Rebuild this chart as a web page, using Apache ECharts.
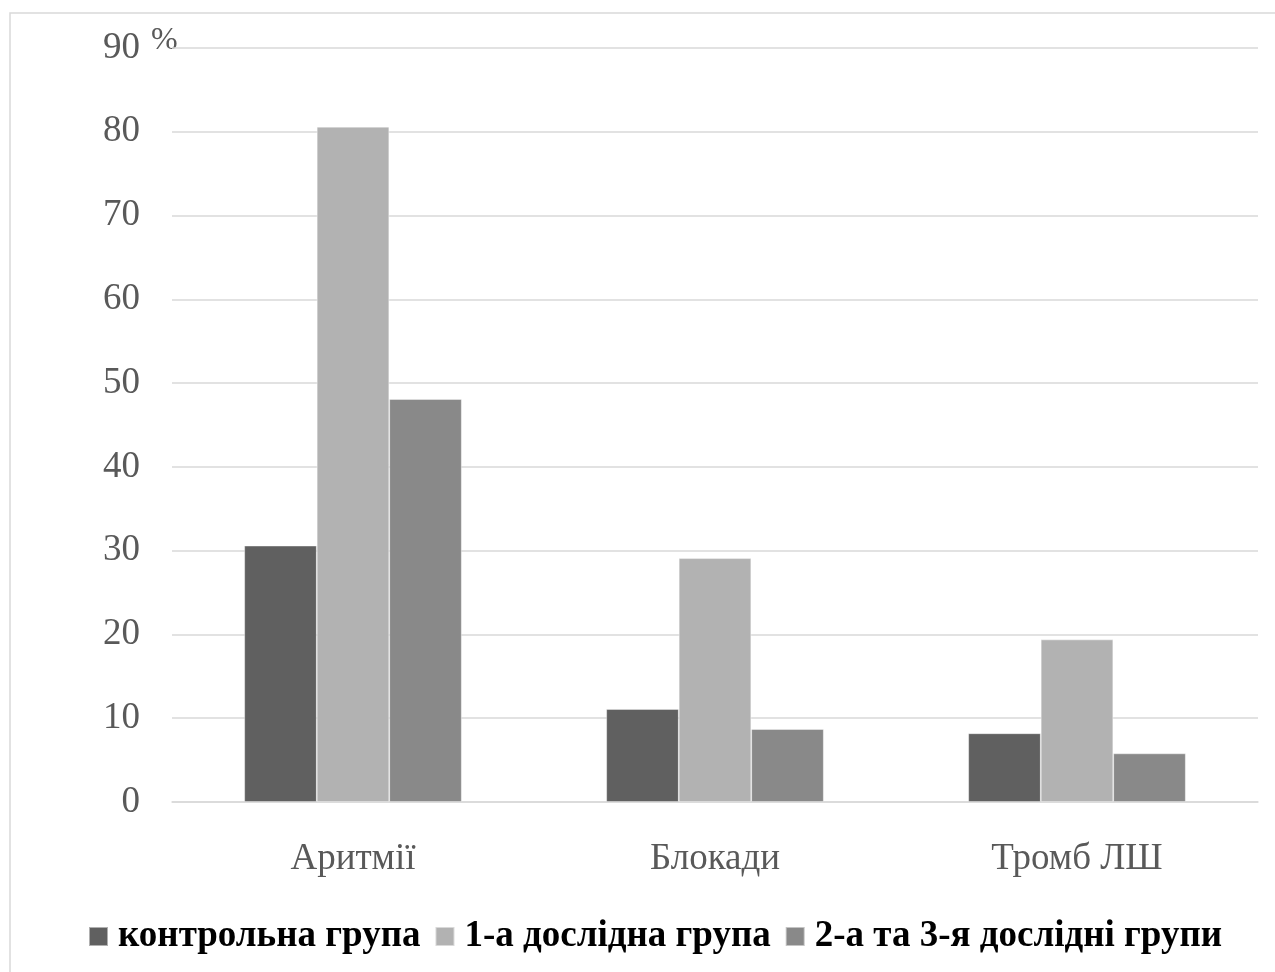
<!DOCTYPE html>
<html>
<head>
<meta charset="utf-8">
<script src="https://cdn.jsdelivr.net/npm/echarts@6/dist/echarts.min.js"></script>
<style>
  html, body { margin: 0; padding: 0; background: #ffffff; }
  #chart { width: 1275px; height: 972px; }
</style>
</head>
<body>
<div id="chart"></div>
<script>
// Complication rates by group, %
const categories = ['Аритмії', 'Блокади', 'Тромб ЛШ'];
const seriesNames = ['контрольна група', '1-а дослідна група', '2-а та 3-я дослідні групи'];
const controlGroup = [30.6, 11.1, 8.2];
const firstGroup = [80.6, 29.1, 19.4];
const secondThirdGroups = [48.1, 8.7, 5.8];
const yTicks = { min: 0, max: 90, interval: 10 };

const colors = ['#606060', '#b2b2b2', '#898989'];
const serifFont = '"Liberation Serif", "Times New Roman", serif';

const chart = echarts.init(document.getElementById('chart'), null, { renderer: 'canvas' });

const values = [controlGroup, firstGroup, secondThirdGroups];

chart.setOption({
  animation: false,
  backgroundColor: '#ffffff',
  color: colors,
  grid: { left: 172, right: 17, top: 48, bottom: 170, containLabel: false },
  graphic: [
    {
      type: 'rect',
      shape: { x: 10, y: 13, width: 1300, height: 1000 },
      style: { fill: 'none', stroke: '#d9d9d9', lineWidth: 1.5 },
      silent: true
    },
    {
      type: 'text',
      x: 151, y: 25,
      style: { text: '%', font: '32px ' + serifFont, fill: '#595959' }
    }
  ],
  legend: {
    bottom: 12,
    left: 83,
    itemWidth: 19,
    itemHeight: 19,
    itemGap: 14,
    icon: 'rect',
    textStyle: {
      fontFamily: serifFont,
      fontWeight: 'bold',
      fontSize: 37,
      color: '#000000',
      padding: [0, 0, 0, 5]
    },
    data: seriesNames
  },
  xAxis: {
    type: 'category',
    data: categories,
    axisLine: { show: true, lineStyle: { color: '#d9d9d9', width: 1.5 } },
    axisTick: { show: false },
    axisLabel: {
      margin: 39,
      fontFamily: serifFont,
      fontSize: 37,
      color: '#595959'
    }
  },
  yAxis: {
    type: 'value',
    min: yTicks.min,
    max: yTicks.max,
    interval: yTicks.interval,
    axisLine: { show: false },
    axisTick: { show: false },
    splitLine: { lineStyle: { color: '#d9d9d9', width: 1.5 } },
    axisLabel: {
      margin: 32,
      padding: [8, 0, 0, 0],
      fontFamily: serifFont,
      fontSize: 37,
      color: '#595959'
    }
  },
  series: seriesNames.map((name, i) => ({
    name: name,
    type: 'bar',
    data: values[i],
    barWidth: 72.5,
    barGap: '0%',
    itemStyle: { color: colors[i], borderColor: 'rgba(255,255,255,0.5)', borderWidth: 0.8 }
  }))
});
</script>
</body>
</html>
